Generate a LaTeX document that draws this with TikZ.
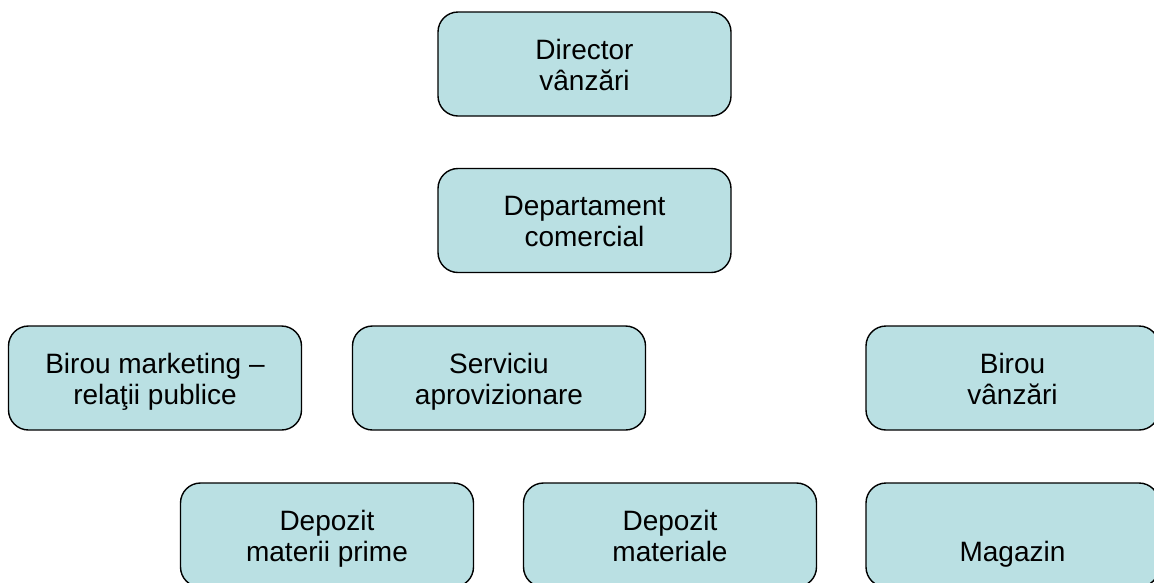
\documentclass[tikz,border=0pt]{standalone}
\usepackage{fontspec}
\setmainfont{Liberation Sans}
\definecolor{boxfill}{HTML}{BAE0E3}
\newcommand{\topstrut}{\rule{0pt}{28pt}}
\newcommand{\botstrut}{\rule[-7pt]{0pt}{7pt}}
\tikzset{
  orgbox/.style={draw=black, line width=1.4pt, fill=boxfill, rounded corners=20pt,
    minimum width=293pt, minimum height=104pt, inner sep=0pt, align=center,
    font=\fontsize{28}{31}\selectfont}
}
\begin{document}
\begin{tikzpicture}[x=1pt,y=-1pt]
\useasboundingbox (0,0) rectangle (1154,582);
\clip (0,0) rectangle (1154,582);
\node[orgbox] (dir) at (584.5,64) {\topstrut Director\\vânzări\botstrut};
\node[orgbox] (dep) at (584.5,220.5) {\topstrut Departament\\comercial\botstrut};
\node[orgbox] (mkt) at (155,378) {\topstrut Birou marketing –\\relaţii publice\botstrut};
\node[orgbox] (serv) at (499,378) {\topstrut Serviciu\\aprovizionare\botstrut};
\node[orgbox] (bv) at (1012.5,378) {\topstrut Birou\\vânzări\botstrut};
\node[orgbox] (dmp) at (327,535) {\topstrut Depozit\\materii prime\botstrut};
\node[orgbox] (dm) at (670,535) {\topstrut Depozit\\materiale\botstrut};
\node[orgbox] (mag) at (1012.5,535) {\topstrut\\Magazin\botstrut};
\end{tikzpicture}
\end{document}
